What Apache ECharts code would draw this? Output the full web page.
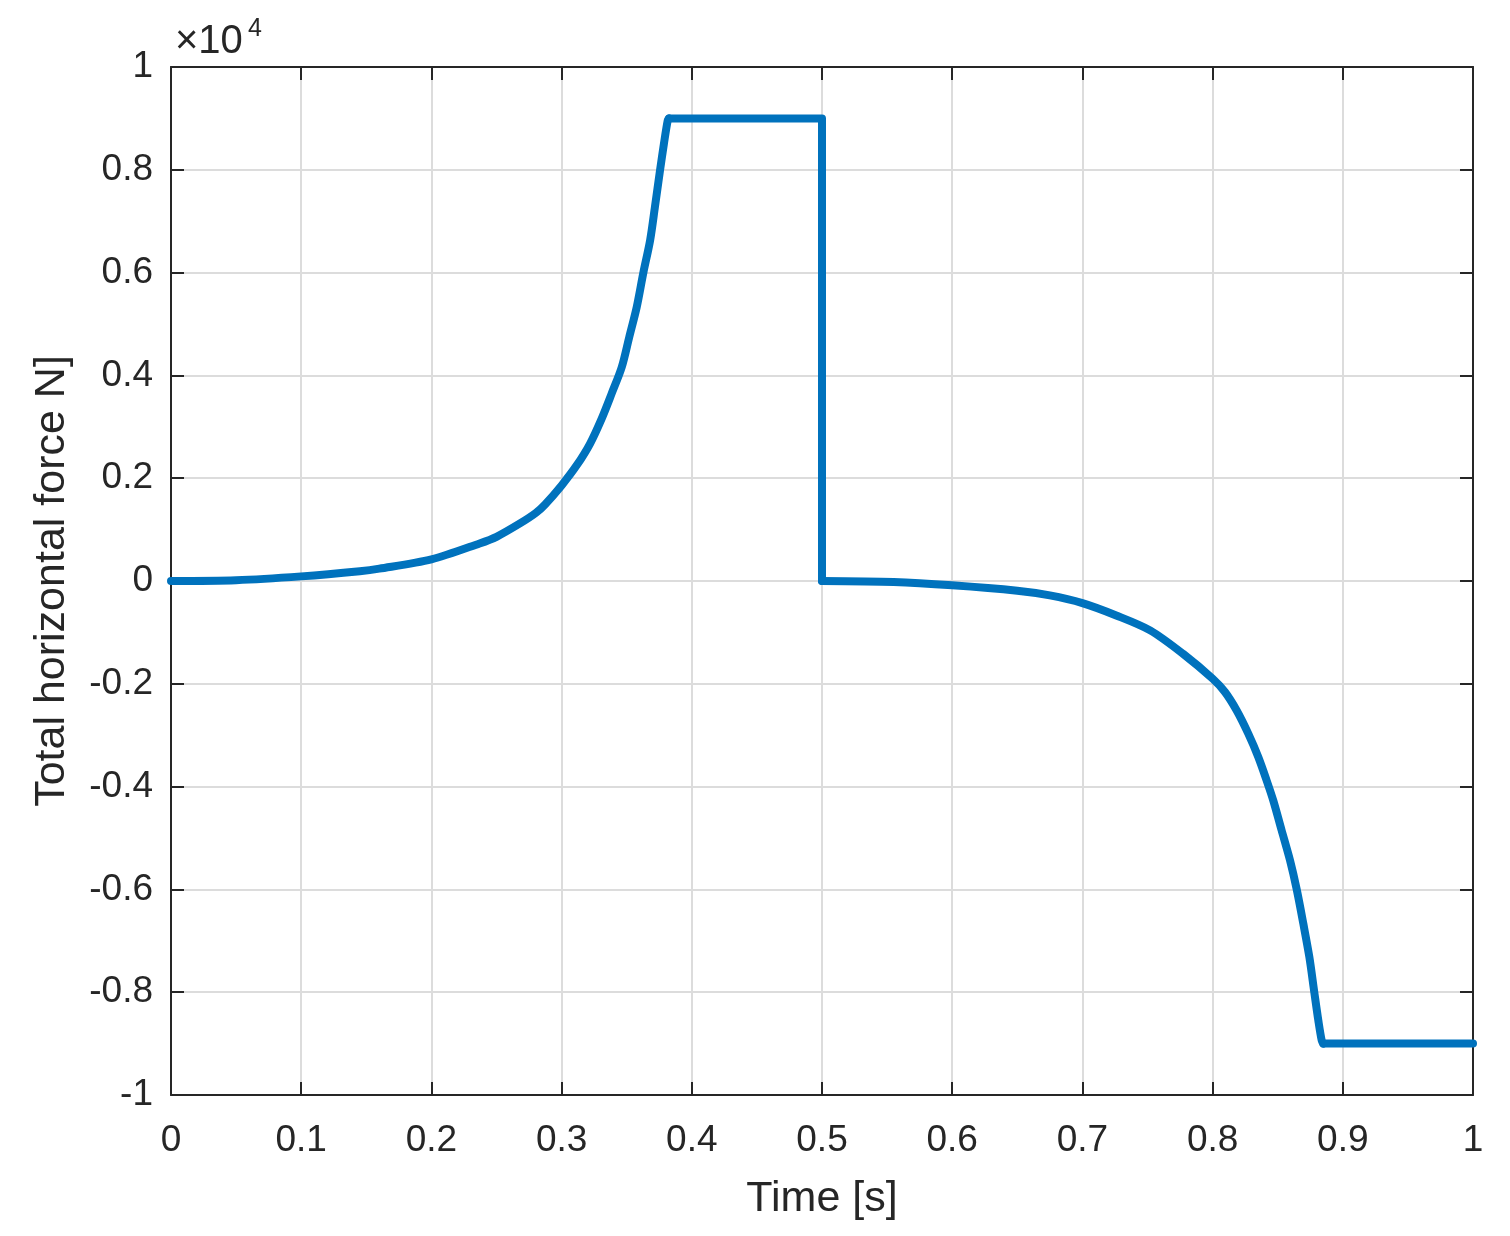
<!DOCTYPE html>
<html>
<head>
<meta charset="utf-8">
<script src="https://cdn.jsdelivr.net/npm/echarts@6/dist/echarts.min.js"></script>
<style>
  html, body { margin: 0; padding: 0; background: #fff; }
  #force { width: 1510px; height: 1236px; }
</style>
</head>
<body>
<div id="force"></div>
<script>
// time [s] and total horizontal force [N]
var timeS = [
  0, 0.05, 0.1, 0.145, 0.16, 0.2, 0.237, 0.25, 0.268, 0.28, 0.2873, 0.3, 0.3116,
  0.3218, 0.3308, 0.3385, 0.3462, 0.352, 0.3577, 0.3628, 0.368, 0.3717, 0.3756,
  0.3786, 0.3815, 0.3825,
  0.5, 0.5,
  0.555, 0.6, 0.65, 0.675, 0.7, 0.726, 0.752, 0.7775, 0.8, 0.8095, 0.8185, 0.8274,
  0.835, 0.8415, 0.8466, 0.853, 0.8594, 0.8646, 0.8697, 0.8743, 0.8781, 0.8812,
  0.8838, 0.885, 1.0
]
var forceN = [
  0, 15, 90, 190, 240, 420, 730, 860, 1120, 1320, 1490, 1860, 2250,
  2670, 3160, 3650, 4160, 4750, 5330, 6000, 6630, 7280, 7990,
  8510, 8960, 9000,
  9000, 0,
  -20, -84, -190, -280, -430, -670, -960, -1420, -1900, -2160, -2520, -2970,
  -3420, -3880, -4270, -4850, -5430, -6000, -6670, -7315, -8000, -8550,
  -8940, -9000, -9000
]
var xTicks = [0, 0.1, 0.2, 0.3, 0.4, 0.5, 0.6, 0.7, 0.8, 0.9, 1]
var yTicks = [-10000, -8000, -6000, -4000, -2000, 0, 2000, 4000, 6000, 8000, 10000]

var points = timeS.map(function (t, i) { return [t, forceN[i]] })
// curved parts get smoothed, the plateau / jumps stay straight
var riseEnd = 25      // (0.3825, 9000)
var dropEnd = 27      // (0.5, 0)
var fallEnd = points.length - 2  // (0.885, -9000)

var font = 'Liberation Sans, Arial, sans-serif'
var ink = '#262626'
var blue = '#0072BD'

function fmtX(v) { return String(+v.toFixed(1)) }
function fmtY(v) { return String(+(v / 10000).toFixed(1)) }

function frameAxis(extra) {
  var base = {
    type: 'value',
    axisLine: { show: true, onZero: false, lineStyle: { color: ink, width: 2 } },
    axisTick: { show: true, inside: true, length: 13, lineStyle: { color: ink, width: 2 } },
    splitLine: { show: false },
    axisLabel: { show: false }
  }
  return Object.assign(base, extra)
}

function part(data, smooth) {
  return {
    type: 'line',
    data: data,
    showSymbol: false,
    smooth: smooth ? 0.3 : false,
    lineStyle: { color: blue, width: 8, join: 'round', cap: 'round' },
    itemStyle: { color: blue },
    z: 3
  }
}

var myChart = echarts.init(document.getElementById('force'))
var option = {
  backgroundColor: '#fff',
  animation: false,
  grid: { left: 171, right: 37, top: 67, bottom: 141, containLabel: false },
  xAxis: [
    frameAxis({
      min: xTicks[0], max: xTicks[xTicks.length - 1], interval: 0.1,
      position: 'bottom',
      splitLine: { show: true, lineStyle: { color: '#dcdcdc', width: 2 } },
      axisLabel: {
        show: true, color: ink, fontFamily: font, fontSize: 37, margin: 27,
        formatter: fmtX
      },
      name: 'Time [s]',
      nameLocation: 'middle',
      nameGap: 83,
      nameTextStyle: { color: ink, fontFamily: font, fontSize: 43 }
    }),
    frameAxis({
      min: xTicks[0], max: xTicks[xTicks.length - 1], interval: 0.1,
      position: 'top'
    })
  ],
  yAxis: [
    frameAxis({
      min: yTicks[0], max: yTicks[yTicks.length - 1], interval: 2000,
      position: 'left',
      splitLine: { show: true, lineStyle: { color: '#dcdcdc', width: 2 } },
      axisLabel: {
        show: true, color: ink, fontFamily: font, fontSize: 37, margin: 18,
        formatter: fmtY
      },
      name: 'Total horizontal force N]',
      nameLocation: 'middle',
      nameGap: 97,
      nameTextStyle: { color: ink, fontFamily: font, fontSize: 43 }
    }),
    frameAxis({
      min: yTicks[0], max: yTicks[yTicks.length - 1], interval: 2000,
      position: 'right'
    })
  ],
  graphic: [
    {
      type: 'text',
      left: 175,
      top: 22,
      style: { text: '×10', font: '40px ' + font, fill: ink }
    },
    {
      type: 'text',
      left: 248,
      top: 17,
      style: { text: '4', font: '25px ' + font, fill: ink }
    }
  ],
  series: [
    part(points.slice(0, riseEnd + 1), true),
    part(points.slice(riseEnd, dropEnd + 1), false),
    part(points.slice(dropEnd, fallEnd + 1), true),
    part(points.slice(fallEnd), false)
  ]
}
myChart.setOption(option)
</script>
</body>
</html>
